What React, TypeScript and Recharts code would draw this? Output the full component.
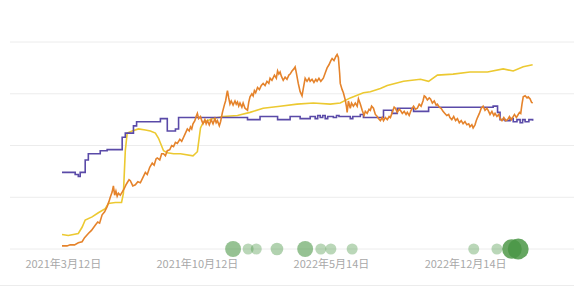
import React from "react";
import { ComposedChart, Line, Scatter, XAxis, YAxis, CartesianGrid } from "recharts";

// days counted from 2021-03-12
const purple: [number, number][] = [
  [-2, 74], [19, 72], [24, 70], [27, 74], [35, 86], [40, 92], [59, 95], [70, 96], [94, 108],
  [99, 112], [112, 119], [117, 123], [155, 126], [166, 114], [179, 116], [184, 127],
  [294, 125], [314, 128], [342, 125], [362, 128], [378, 126], [394, 128], [402, 126],
  [406, 129], [410, 127], [414, 129], [418, 126], [422, 128], [431, 127], [436, 129],
  [440, 128], [450, 128], [458, 126], [462, 128], [474, 130], [479, 127], [511, 134],
  [525, 131], [533, 136], [559, 133], [583, 137], [686, 138], [693, 132], [697, 125],
  [705, 124], [713, 126], [718, 123], [724, 125], [729, 122], [733, 125], [737, 123],
  [743, 125], [749, 124],
];

const orange: [number, number][] = [
  [-2, 3], [6, 3], [11, 4], [18, 4], [24, 6], [30, 7], [34, 11], [40, 15], [45, 18],
  [51, 23], [55, 26], [58, 25], [62, 33], [66, 36], [70, 41], [73, 46], [75, 50],
  [78, 55], [80, 61], [82, 52], [84, 56], [86, 51], [88, 54], [91, 52], [94, 55],
  [97, 58], [100, 62], [102, 64], [105, 67], [107, 66], [111, 61], [115, 62], [119, 65],
  [123, 64], [127, 69], [131, 74], [134, 72], [138, 79], [142, 83], [145, 81], [148, 87],
  [150, 88], [154, 86], [157, 92], [160, 92], [163, 90], [166, 95], [170, 96], [173, 100],
  [176, 99], [179, 103], [182, 102], [186, 106], [189, 104], [192, 108], [195, 112],
  [198, 116], [201, 114], [203, 118], [205, 116], [207, 121], [210, 124], [212, 128],
  [214, 131], [216, 126], [219, 128], [221, 124], [223, 121], [226, 125], [228, 121],
  [230, 124], [233, 120], [236, 125], [239, 121], [242, 126], [244, 122], [246, 124],
  [249, 119], [251, 123], [254, 132], [257, 139], [259, 143], [261, 150], [262, 153],
  [264, 146], [266, 140], [268, 143], [271, 139], [274, 143], [276, 140], [278, 142],
  [280, 138], [282, 141], [285, 137], [287, 141], [290, 136], [294, 134], [296, 142],
  [298, 147], [301, 150], [303, 148], [305, 153], [307, 151], [310, 156], [313, 154],
  [316, 158], [319, 160], [322, 158], [325, 162], [328, 160], [330, 165], [333, 163],
  [337, 168], [340, 165], [342, 172], [344, 169], [346, 171], [348, 167], [351, 163],
  [354, 166], [357, 164], [360, 168], [362, 169], [365, 172], [368, 174], [370, 176],
  [372, 170], [375, 160], [378, 152], [381, 148], [383, 155], [386, 165], [389, 162],
  [392, 165], [394, 162], [397, 164], [400, 161], [403, 164], [405, 162], [408, 165],
  [411, 162], [415, 165], [418, 170], [421, 175], [424, 178], [427, 182], [429, 184],
  [432, 182], [435, 186], [437, 188], [439, 185], [441, 170], [442, 160], [445, 154],
  [447, 151], [450, 144], [452, 137], [453, 132], [455, 143], [458, 136], [460, 141],
  [463, 138], [466, 141], [469, 138], [471, 145], [474, 140], [477, 134], [480, 129],
  [482, 133], [485, 131], [488, 135], [490, 134], [492, 138], [495, 136], [498, 130],
  [501, 128], [503, 126], [506, 124], [509, 127], [511, 124], [514, 127], [517, 125],
  [520, 128], [522, 127], [525, 132], [528, 137], [530, 136], [533, 132], [536, 135],
  [538, 134], [541, 131], [544, 133], [547, 130], [549, 132], [552, 129], [555, 134],
  [557, 136], [559, 138], [562, 135], [565, 136], [568, 140], [571, 138], [574, 143],
  [576, 148], [578, 147], [581, 144], [584, 146], [586, 145], [589, 141], [592, 143],
  [595, 139], [597, 140], [600, 137], [603, 136], [606, 133], [609, 131], [612, 129],
  [615, 130], [617, 127], [620, 125], [623, 128], [626, 124], [629, 126], [632, 122],
  [635, 124], [638, 121], [641, 123], [644, 120], [647, 121], [649, 118], [652, 120],
  [654, 117], [657, 120], [659, 124], [661, 127], [664, 131], [667, 136], [670, 138],
  [673, 134], [676, 136], [678, 134], [681, 130], [684, 133], [687, 129], [689, 131],
  [692, 128], [695, 130], [697, 126], [700, 124], [703, 127], [706, 124], [709, 125],
  [712, 128], [715, 125], [717, 127], [720, 130], [723, 127], [725, 129], [728, 132],
  [730, 131], [732, 140], [734, 147], [737, 148], [740, 146], [742, 147], [745, 145],
  [747, 142], [749, 141],
];

const yellow: [number, number][] = [
  [-2, 14], [8, 13], [24, 15], [30, 21], [35, 28], [46, 31], [56, 35], [67, 39],
  [72, 44], [83, 45], [93, 45], [96, 54], [99, 95], [102, 112], [110, 114], [120, 116],
  [131, 115], [139, 114], [147, 112], [152, 107], [160, 95], [166, 93], [176, 92],
  [187, 92], [207, 90], [214, 94], [219, 117], [223, 122], [230, 124], [239, 126],
  [255, 128], [278, 129], [298, 132], [319, 136], [346, 138], [373, 140], [399, 141],
  [426, 140], [442, 141], [458, 146], [479, 151], [490, 152], [506, 155], [517, 158],
  [543, 162], [570, 164], [583, 162], [597, 168], [622, 169], [649, 171], [677, 171],
  [702, 174], [718, 172], [734, 176], [749, 178],
];

const eventDays = [271, 295, 308, 341, 386, 411, 427, 461, 655, 692, 716, 726];
const eventCounts = [5, 1, 1, 2, 5, 1, 1, 1, 1, 1, 10, 12];

const tickDays = [0, 214, 428, 642];

const START = Date.UTC(2021, 2, 12);
const fmtDay = (d: number) => {
  const t = new Date(START + d * 86400000);
  return `${t.getUTCFullYear()}年${t.getUTCMonth() + 1}月${t.getUTCDate()}日`;
};

const toRows = (pts: [number, number][]) => pts.map(([day, v]) => ({ day, v }));
const events = eventDays.map((day, i) => ({ day, v: 0, n: eventCounts[i] }));

// bubble size and shade grow with the count
const Bubble = (props: any) => {
  const n = props.payload?.n ?? 1;
  const r = 3.5 + 2 * Math.sqrt(n);
  const op = Math.min(0.33 + n * 0.05, 0.85);
  return <circle cx={props.cx} cy={props.cy} r={r} fill="#4a9645" fillOpacity={op} />;
};

export default function App() {
  return (
    <div style={{ position: "absolute", left: 0, top: 0, width: 574, height: 285, borderBottom: "1px solid #ececec" }}>
      <ComposedChart width={574} height={285} margin={{ top: 42, right: 0, bottom: 0, left: 10 }}>
        <CartesianGrid vertical={false} stroke="#ececec" />
        <XAxis
          type="number"
          dataKey="day"
          domain={[-85, 815]}
          ticks={tickDays}
          tickFormatter={fmtDay}
          axisLine={false}
          tickLine={false}
          height={36}
          tickMargin={5}
          tick={{ fill: "#a8a8a8", fontSize: 11, fontFamily: "Noto Sans CJK SC" }}
        />
        <YAxis hide dataKey="v" domain={[0, 200]} ticks={[0, 50, 100, 150, 200]} />
        <Line data={toRows(yellow)} dataKey="v" type="linear" stroke="#ecc931" strokeWidth={1.6} dot={false} isAnimationActive={false} />
        <Line data={toRows(purple)} dataKey="v" type="stepAfter" stroke="#5a4aa8" strokeWidth={1.6} dot={false} isAnimationActive={false} />
        <Line data={toRows(orange)} dataKey="v" type="linear" stroke="#e5832b" strokeWidth={1.6} dot={false} isAnimationActive={false} />
        <Scatter data={events} dataKey="v" shape={Bubble} isAnimationActive={false} />
      </ComposedChart>
    </div>
  );
}
